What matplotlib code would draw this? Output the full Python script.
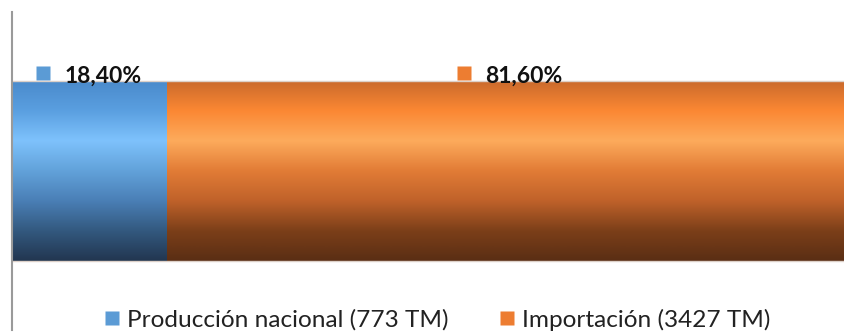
import numpy as np
import matplotlib.pyplot as plt
import matplotlib.transforms as mtransforms
from matplotlib.colors import LinearSegmentedColormap
from matplotlib.lines import Line2D

# --- Data ---
categories = ['Producción nacional', 'Importación']
tonnes = [773, 3427]
legend_labels = ['Producción nacional (773 TM)', 'Importación (3427 TM)']
key_colors = ['#5b9bd5', '#ed7d31']

# vertical gradients, top -> bottom
blue_stops = ['#4a8acb', '#5a9fe0', '#7ec2fc', '#62a2da', '#4a7fb6', '#33597f', '#223650']
orange_stops = ['#c9692c', '#fb8733', '#fdab5c', '#e27c36', '#c0622a', '#7c3f19', '#5a2e14']

total = sum(tonnes)
shares = [100 * t / total for t in tonnes]

plt.rcParams['font.family'] = ['Lato', 'DejaVu Sans']

fig = plt.figure(figsize=(8.45, 3.33), dpi=100)
ax = fig.add_axes([12 / 845, 3 / 333, 842 / 845, 318 / 333])

# stacked 100% bar
left = 0
bars = []
for share in shares:
    b = ax.barh(0, share, left=left, height=1.0, color='none', edgecolor='none')[0]
    bars.append(b)
    left += share

grad = np.linspace(0, 1, 256).reshape(-1, 1)
for b, stops in zip(bars, [blue_stops, orange_stops]):
    cmap = LinearSegmentedColormap.from_list('g', stops)
    x0, y0 = b.get_x(), b.get_y()
    im = ax.imshow(grad, cmap=cmap, aspect='auto', origin='upper',
                   extent=[x0, x0 + b.get_width(), y0, y0 + b.get_height()],
                   interpolation='bicubic', zorder=1)
    im.set_clip_path(b)

# thin light rim on top and bottom of the bar
ax.hlines([0.5, -0.5], 0, 100, color='#dcd0c8', lw=1, zorder=2)

# percentage labels with colour key, centred on each segment
px = 1 / fig.dpi
for b, share, c in zip(bars, shares, key_colors):
    cx = b.get_x() + b.get_width() / 2
    txt = f'{share:.2f}%'.replace('.', ',')
    ax.text(cx, 0.5, txt, ha='left', va='baseline', fontsize=16.5, fontweight='bold',
            color='#111111', zorder=4,
            transform=ax.transData + mtransforms.ScaledTranslation(-25 * px, -2 * px, fig.dpi_scale_trans))
    ax.plot([cx], [0.5], marker='s', ms=9.5, color=c, mec='none', zorder=4, clip_on=False,
            transform=ax.transData + mtransforms.ScaledTranslation(-46 * px, 8 * px, fig.dpi_scale_trans))

ax.set_xlim(0, 100)
ax.set_ylim(-0.88, 0.88)
ax.set_xticks([])
ax.set_yticks([])
for s in ['top', 'right', 'bottom']:
    ax.spines[s].set_visible(False)
ax.spines['left'].set_color('#9a9a9a')
ax.spines['left'].set_linewidth(1.5)

handles = [Line2D([], [], marker='s', ls='none', ms=9.5, color=c, mec='none') for c in key_colors]
fig.legend(handles, legend_labels, loc='center', bbox_to_anchor=(0.517, 13 / 333),
           ncol=2, frameon=False, fontsize=17.6, handletextpad=0.25, columnspacing=2.0,
           handlelength=0.75, labelcolor='#222222', borderpad=0)

fig.savefig('out.png', dpi=100)
